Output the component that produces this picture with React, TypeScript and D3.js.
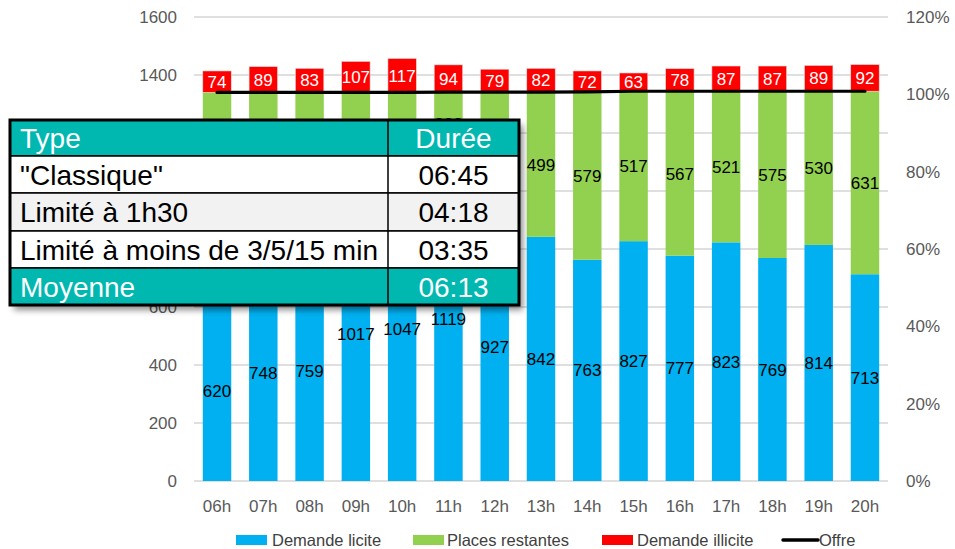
import React from "react";
import * as d3 from "d3";

const categories = ["06h","07h","08h","09h","10h","11h","12h","13h","14h","15h","16h","17h","18h","19h","20h"];
const licite = [620,748,759,1017,1047,1119,927,842,763,827,777,823,769,814,713];
const restantes = [720,592,581,323,293,222,414,499,579,517,567,521,575,530,631];
const illicite = [74,89,83,107,117,94,79,82,72,63,78,87,87,89,92];
const offre = [1340,1340,1340,1340,1340,1341,1341,1341,1342,1344,1344,1344,1344,1344,1344];
const leftTicks = [0,200,400,600,800,1000,1200,1400,1600];
const rightTicks = [0,20,40,60,80,100,120];

const tableHeader = ["Type","Durée"];
const tableRows = [["\"Classique\"","06:45"],["Limité à 1h30","04:18"],["Limité à moins de 3/5/15 min","03:35"]];
const tableFooter = ["Moyenne","06:13"];

const W = 955, H = 549;
const FONT = "'Liberation Sans', Arial, sans-serif";
const BLUE = "#00B0F0", GREEN = "#92D050", RED = "#FF0000", TEAL = "#00B8B0";

export default function App() {
  const left = 194, right = 888, top = 17, bottom = 481;
  const x = d3.scaleBand<string>().domain(categories).range([left, right]).paddingInner(0.385).paddingOuter(0.19);
  const y = d3.scaleLinear().domain([0,1600]).range([bottom, top]);
  const yr = d3.scaleLinear().domain([0,120]).range([bottom, top]);
  const bw = x.bandwidth();
  const line = d3.line<number>().x((_, i) => (x(categories[i]) as number) + bw / 2).y(d => y(d));

  const tx = 10, ty = 120, tw = 509, colX = 388;
  const rowH = [36, 37, 38, 37, 37];
  const rowY = rowH.map((_, i) => ty + d3.sum(rowH.slice(0, i)));
  const th = d3.sum(rowH);
  const rows = [tableHeader, ...tableRows, tableFooter];

  const legend = [
    { label: "Demande licite", color: BLUE, sx: 236, tx: 272, type: "rect" },
    { label: "Places restantes", color: GREEN, sx: 413, tx: 447, type: "rect" },
    { label: "Demande illicite", color: RED, sx: 602, tx: 637, type: "rect" },
    { label: "Offre", color: "#000", sx: 783, tx: 819, type: "line" },
  ];
  const ly = 540;

  return (
    <svg width={W} height={H} style={{ position: "absolute", left: 0, top: 0, fontFamily: FONT }}>
      <defs>
        <filter id="sh" x="-10%" y="-10%" width="130%" height="140%">
          <feDropShadow dx="4" dy="5" stdDeviation="3" floodColor="#000" floodOpacity="0.45" />
        </filter>
      </defs>
      <rect width={W} height={H} fill="#fff" />
      {leftTicks.map(t => (
        <g key={"l" + t}>
          <line x1={left} x2={right} y1={y(t)} y2={y(t)} stroke="#BFBFBF" strokeWidth={1.2} />
          <text x={177} y={y(t)} dy="0.36em" textAnchor="end" fontSize={17} fill="#595959">{t}</text>
        </g>
      ))}
      {rightTicks.map(t => (
        <text key={"r" + t} x={906} y={yr(t)} dy="0.36em" fontSize={17} fill="#595959">{t}%</text>
      ))}
      {categories.map((c, i) => {
        const x0 = x(c) as number;
        const cx = x0 + bw / 2;
        const b0 = y(0), b1 = y(licite[i]);
        const g1 = y(licite[i] + restantes[i]);
        const r1 = y(licite[i] + restantes[i] + illicite[i]);
        return (
          <g key={c}>
            <rect x={x0} y={b1} width={bw} height={b0 - b1} fill={BLUE} />
            <rect x={x0} y={g1} width={bw} height={b1 - g1} fill={GREEN} />
            <rect x={x0} y={r1} width={bw} height={g1 - r1} fill={RED} stroke="#e0e0e0" strokeWidth={0.6} />
            <text x={cx} y={(b0 + b1) / 2} dy="0.36em" textAnchor="middle" fontSize={17} fill="#000">{licite[i]}</text>
            <text x={cx} y={(b1 + g1) / 2} dy="0.36em" textAnchor="middle" fontSize={17} fill="#000">{restantes[i]}</text>
            <text x={cx} y={(g1 + r1) / 2} dy="0.36em" textAnchor="middle" fontSize={17} fill="#fff">{illicite[i]}</text>
            <text x={cx} y={506} dy="0.36em" textAnchor="middle" fontSize={17} fill="#595959">{c}</text>
          </g>
        );
      })}
      <path d={line(offre) || ""} fill="none" stroke="#000" strokeWidth={3.2} strokeLinecap="round" />

      <g fontSize={16.5} fill="#404040">
        {legend.map(l => (
          <g key={l.label}>
            {l.type === "rect"
              ? <rect x={l.sx} y={ly - 5} width={31} height={10} fill={l.color} />
              : <line x1={l.sx} x2={l.sx + 35} y1={ly} y2={ly} stroke={l.color} strokeWidth={3.5} strokeLinecap="round" />}
            <text x={l.tx} y={ly} dy="0.34em">{l.label}</text>
          </g>
        ))}
      </g>

      <g>
        <rect x={tx} y={ty} width={tw} height={th} fill="#fff" filter="url(#sh)" />
        {rows.map((r, i) => {
          const teal = i === 0 || i === rows.length - 1;
          const fill = teal ? TEAL : i === 2 ? "#F2F2F2" : "#fff";
          const color = teal ? "#fff" : "#000";
          const yy = rowY[i];
          const rh = rowH[i];
          return (
            <g key={"row" + i}>
              <rect x={tx} y={yy} width={tw} height={rh} fill={fill} stroke="#000" strokeWidth={1.5} />
              <text x={tx + 10} y={yy + rh / 2} dy="0.36em" fontSize={28} fill={color}>{r[0]}</text>
              <text x={(colX + tx + tw) / 2} y={yy + rh / 2} dy="0.36em" textAnchor="middle" fontSize={28} fill={color}>{r[1]}</text>
            </g>
          );
        })}
        <line x1={colX} x2={colX} y1={ty} y2={ty + th} stroke="#000" strokeWidth={1.5} />
        <rect x={tx} y={ty} width={tw} height={th} fill="none" stroke="#000" strokeWidth={3} />
      </g>
    </svg>
  );
}
